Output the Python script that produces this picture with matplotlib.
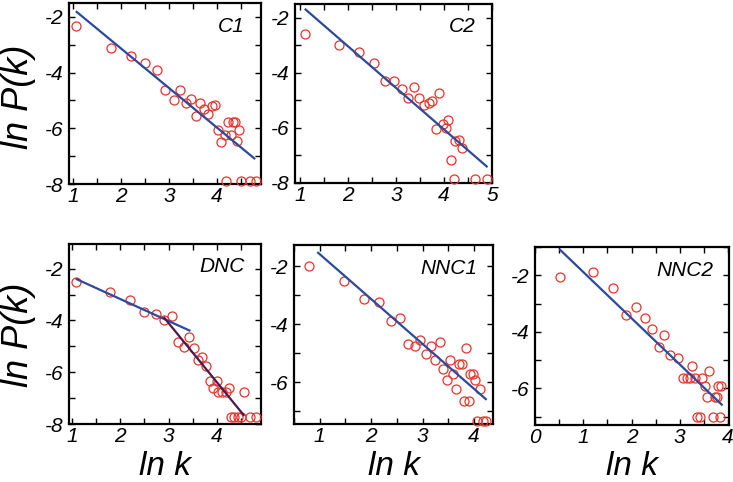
import matplotlib
matplotlib.use("Agg")
import matplotlib.pyplot as plt
from matplotlib.ticker import MultipleLocator
from matplotlib import font_manager

plt.rcParams['font.family'] = ['Liberation Sans', 'DejaVu Sans']
plt.rcParams['font.style'] = 'italic'
plt.rcParams['axes.unicode_minus'] = False

names_avail = {f.name for f in font_manager.fontManager.ttflist}
label_family = ['Liberation Sans Narrow', 'Liberation Sans'] if 'Liberation Sans Narrow' in names_avail else ['Liberation Sans']

# ---- data ----
c1_x = [1.07, 1.79, 2.21, 2.51, 2.75, 2.93, 3.10, 3.24, 3.35, 3.47, 3.57, 3.65, 3.73, 3.82,
        3.90, 3.96, 4.02, 4.09, 4.16, 4.23, 4.30, 4.33, 4.38, 4.43, 4.47, 4.20, 4.51, 4.69, 4.81]
c1_y = [-2.33, -3.13, -3.39, -3.64, -3.91, -4.64, -4.97, -4.64, -5.09, -4.96, -5.55, -5.09, -5.30, -5.47,
        -5.21, -5.16, -6.06, -6.48, -6.25, -5.78, -6.25, -5.78, -5.78, -6.47, -6.06, -7.88, -7.88, -7.88, -7.88]
c1_fit_x = [1.08, 4.78]
c1_fit_y = [-1.82, -7.08]

c2_x = [1.11, 1.82, 2.23, 2.54, 2.77, 2.96, 3.12, 3.26, 3.37, 3.49, 3.58, 3.68, 3.76, 3.83, 3.90,
        3.97, 4.04, 4.09, 4.14, 4.21, 4.24, 4.31, 4.38, 4.65, 4.89]
c2_y = [-2.60, -3.00, -3.24, -3.66, -4.31, -4.29, -4.59, -4.92, -4.51, -4.92, -5.17, -5.10, -5.04, -6.04, -4.74,
        -5.86, -6.02, -5.73, -7.16, -7.84, -6.46, -6.43, -6.73, -7.84, -7.84]
c2_fit_x = [1.12, 4.89]
c2_fit_y = [-1.70, -7.40]

dnc_x = [1.08, 1.79, 2.21, 2.50, 2.73, 2.91, 3.08, 3.20, 3.32, 3.43, 3.53, 3.61, 3.70, 3.78, 3.85,
         3.92, 3.99, 4.03, 4.10, 4.19, 4.24, 4.29, 4.36, 4.43, 4.50, 4.55, 4.69, 4.81]
dnc_y = [-2.50, -2.91, -3.22, -3.67, -3.77, -3.97, -3.84, -4.83, -5.01, -4.64, -5.07, -5.52, -5.40, -5.75, -6.33,
         -6.62, -6.33, -6.75, -6.75, -6.75, -6.62, -7.72, -7.72, -7.72, -7.72, -6.75, -7.72, -7.72]
dnc_fit1_x = [1.10, 3.43]
dnc_fit1_y = [-2.41, -4.39]
dnc_fit2_x = [2.91, 4.55]
dnc_fit2_y = [-3.90, -7.65]

nnc1_x = [0.79, 1.47, 1.87, 2.15, 2.38, 2.57, 2.72, 2.85, 2.96, 3.07, 3.16, 3.24, 3.33, 3.40, 3.47,
          3.54, 3.60, 3.66, 3.71, 3.76, 3.80, 3.85, 3.90, 3.93, 3.98, 4.02, 4.06, 4.12, 4.18, 4.23]
nnc1_y = [-2.00, -2.52, -3.12, -3.23, -3.90, -3.79, -4.69, -4.77, -4.55, -5.03, -4.77, -5.25, -4.63, -5.54, -5.94,
          -5.25, -5.73, -6.23, -5.39, -5.39, -6.64, -4.84, -6.64, -5.71, -5.71, -5.94, -7.33, -6.23, -7.33, -7.33]
nnc1_fit_x = [0.97, 4.23]
nnc1_fit_y = [-1.54, -6.59]

nnc2_x = [0.52, 1.21, 1.61, 1.88, 2.10, 2.28, 2.43, 2.68, 2.57, 2.79, 2.97, 3.06, 3.14, 3.21, 3.25,
          3.31, 3.47, 3.52, 3.61, 3.56, 3.72, 3.77, 3.79, 3.86, 3.36, 3.41, 3.68, 3.83]
nnc2_y = [-2.07, -1.88, -2.44, -3.40, -3.13, -3.52, -3.91, -4.12, -4.53, -4.81, -4.93, -5.62, -5.62, -5.62, -5.21,
          -5.62, -5.62, -5.91, -5.40, -6.31, -6.31, -6.31, -5.91, -5.91, -7.01, -7.01, -7.01, -7.01]
nnc2_fit_x = [0.52, 3.87]
nnc2_fit_y = [-1.10, -6.58]

panel_names = ['C1', 'C2', 'DNC', 'NNC1', 'NNC2']
x_ticks = {'C1': [1, 2, 3, 4], 'C2': [1, 2, 3, 4, 5], 'DNC': [1, 2, 3, 4],
           'NNC1': [1, 2, 3, 4], 'NNC2': [0, 1, 2, 3, 4]}
y_ticks = {'C1': [-2, -4, -6, -8], 'C2': [-2, -4, -6, -8], 'DNC': [-2, -4, -6, -8],
           'NNC1': [-2, -4, -6], 'NNC2': [-2, -4, -6]}

# ---- layout ----
W, H = 733, 482
fig = plt.figure(figsize=(W / 100, H / 100), dpi=100)

def add_ax(l, r, t, b):
    return fig.add_axes([l / W, (H - b) / H, (r - l) / W, (b - t) / H])

boxes = {'C1': (69, 261, 3, 184), 'C2': (295, 492, 4, 183), 'DNC': (69, 261, 244, 424),
         'NNC1': (294, 493, 245, 424), 'NNC2': (535, 729, 247, 425)}
lims = {'C1': ((0.92, 4.92), (-8, -1.5)), 'C2': ((0.9, 5.0), (-8, -1.5)),
        'DNC': ((0.94, 4.91), (-8, -1.05)), 'NNC1': ((0.5, 4.37), (-7.45, -1.27)),
        'NNC2': ((0.0, 4.02), (-7.3, -1.0))}
data = {'C1': (c1_x, c1_y, [(c1_fit_x, c1_fit_y, '#2c4a9c')]),
        'C2': (c2_x, c2_y, [(c2_fit_x, c2_fit_y, '#2c4a9c')]),
        'DNC': (dnc_x, dnc_y, [(dnc_fit1_x, dnc_fit1_y, '#2c4a9c'), (dnc_fit2_x, dnc_fit2_y, '#4a1a4e')]),
        'NNC1': (nnc1_x, nnc1_y, [(nnc1_fit_x, nnc1_fit_y, '#2c4a9c')]),
        'NNC2': (nnc2_x, nnc2_y, [(nnc2_fit_x, nnc2_fit_y, '#2c4a9c')])}

red = '#e8342c'
for name in panel_names:
    ax = add_ax(*boxes[name])
    xs, ys, fits = data[name]
    ax.plot(xs, ys, linestyle='none', marker='o', markersize=6.5, markerfacecolor='none',
            markeredgecolor=red, markeredgewidth=0.9, clip_on=False, zorder=3)
    for fx, fy, col in fits:
        ax.plot(fx, fy, color=col, linewidth=1.6, zorder=4)
    ax.set_xlim(*lims[name][0])
    ax.set_ylim(*lims[name][1])
    ax.set_xticks(x_ticks[name])
    ax.set_yticks(y_ticks[name])
    ax.xaxis.set_minor_locator(MultipleLocator(0.5))
    ax.yaxis.set_minor_locator(MultipleLocator(1))
    ax.tick_params(which='both', direction='in', top=True, right=True, width=1.0, labelsize=15)
    ax.tick_params(which='major', length=4.5, pad=4)
    ax.tick_params(axis='x', which='major', pad=2.5)
    ax.tick_params(which='minor', length=4)
    for lab in ax.get_xticklabels() + ax.get_yticklabels():
        lab.set_fontstyle('italic')
        lab.set_family(label_family)
    for s in ax.spines.values():
        s.set_linewidth(1.6)
    wpx = boxes[name][1] - boxes[name][0]
    hpx = boxes[name][3] - boxes[name][2]
    ax.text(1 - 16 / wpx, 1 - 23 / hpx, name, transform=ax.transAxes, ha='right', va='center',
            fontsize=15, fontstyle='italic')

for yc in (97, 335):
    fig.text(18 / W, 1 - yc / H, 'ln P(k)', rotation=90, ha='center', va='center',
             fontsize=26, fontstyle='italic', family=label_family)
for name in ['DNC', 'NNC1', 'NNC2']:
    l, r, t, b = boxes[name]
    fig.text((l + r) / 2 / W, 1 - 475 / H, 'ln k', ha='center', va='baseline',
             fontsize=24, fontstyle='italic', family=label_family)

fig.savefig('out.png', dpi=100)
